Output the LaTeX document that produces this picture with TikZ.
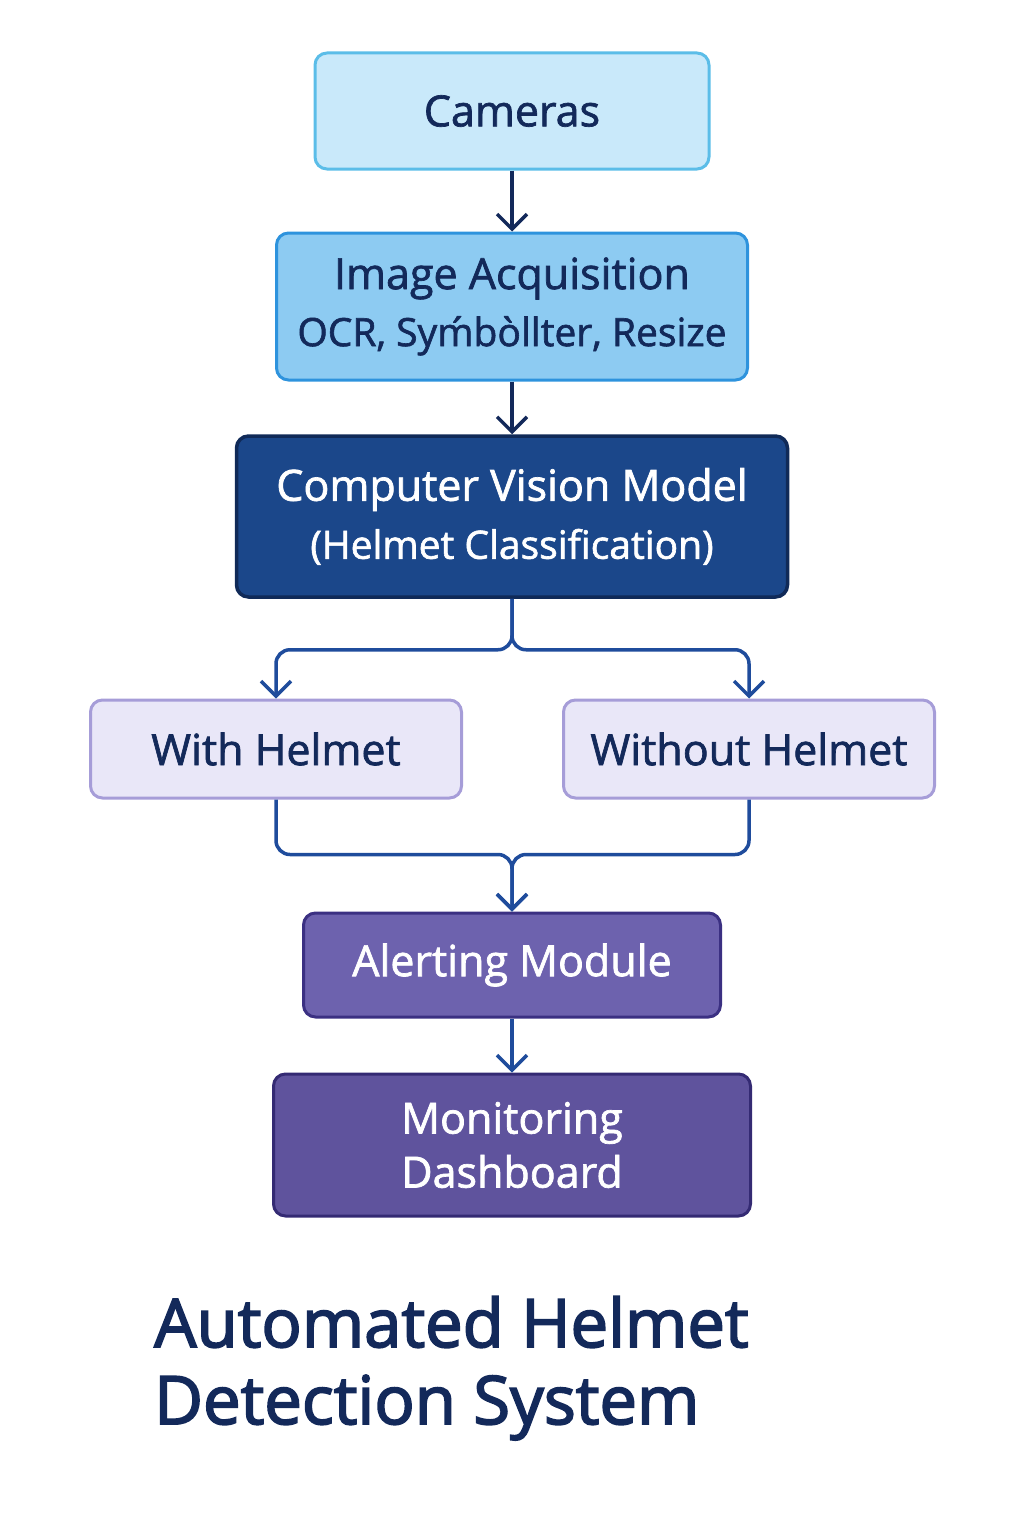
\documentclass[tikz,border=0pt]{standalone}
\usepackage{fontspec}
\setmainfont{Open Sans}[FakeBold=1.6]
\newfontfamily\titlefont{Open Sans}[FakeBold=2.6]
\usepackage{tikz}
\usetikzlibrary{arrows.meta, positioning}
\definecolor{camfill}{HTML}{C9E9FA}
\definecolor{camdraw}{HTML}{5BBDE8}
\definecolor{acqfill}{HTML}{8DCBF2}
\definecolor{acqdraw}{HTML}{2E93DD}
\definecolor{cvfill}{HTML}{1B478A}
\definecolor{cvdraw}{HTML}{102A58}
\definecolor{clsfill}{HTML}{E9E7F8}
\definecolor{clsdraw}{HTML}{A69DD8}
\definecolor{alfill}{HTML}{6D62AE}
\definecolor{aldraw}{HTML}{3B3082}
\definecolor{monfill}{HTML}{5F539D}
\definecolor{mondraw}{HTML}{342A73}
\definecolor{navy}{HTML}{13295A}
\definecolor{flow}{HTML}{1F4C9C}
\newcommand{\sublabel}{\fontsize{39}{46}\selectfont}
\tikzstyle{camera} =
[rectangle, rounded corners=12pt, minimum width = 394pt, minimum height = 116pt,
text centered, draw=camdraw, line width=3pt, fill=camfill, text=navy,
font=\fontsize{43}{50}\selectfont]
\tikzstyle{acquire} =
[rectangle, rounded corners=12pt, minimum width = 471pt, minimum height = 147pt,
align=center, draw=acqdraw, line width=3pt, fill=acqfill, text=navy,
font=\fontsize{43}{57}\selectfont]
\tikzstyle{model} =
[rectangle, rounded corners=12pt, minimum width = 551pt, minimum height = 161pt,
align=center, draw=cvdraw, line width=3.5pt, fill=cvfill, text=white,
font=\fontsize{43}{58}\selectfont]
\tikzstyle{classbox} =
[rectangle, rounded corners=12pt, minimum width = 371pt, minimum height = 98pt,
text centered, draw=clsdraw, line width=3pt, fill=clsfill, text=navy,
font=\fontsize{43}{50}\selectfont]
\tikzstyle{alert} =
[rectangle, rounded corners=12pt, minimum width = 417pt, minimum height = 104pt,
text centered, draw=aldraw, line width=3pt, fill=alfill, text=white,
font=\fontsize{43}{50}\selectfont]
\tikzstyle{monitor} =
[rectangle, rounded corners=12pt, minimum width = 477pt, minimum height = 142pt,
align=center, draw=mondraw, line width=3pt, fill=monfill, text=white,
font=\fontsize{43}{54}\selectfont]
\tikzstyle{heading} =
[align=left, text=navy, inner sep=0pt, font=\titlefont\fontsize{67}{77}\selectfont]
\tikzstyle{line} = [draw, -{Straight Barb[length=15pt,width=30pt]}, line width=3.5pt]

\begin{document}
\begin{tikzpicture}[x=1pt, y=1pt, node distance = 200pt]
  \useasboundingbox (0,0) rectangle (1024,-1536);
  % pipeline nodes
  \node [camera] (cam) at (512,-111) {Cameras};
  \node [acquire, below of=cam, node distance=195.5pt] (acq)
   {Image Acquisition\\ {\sublabel OCR, Sy\'mb\`ollter, Resize}};
  \node [model, below of=acq, node distance=210pt] (cvm)
   {Computer Vision Model\\ {\sublabel (Helmet Classification)}};
  \node [classbox, below of=cvm, node distance=232.5pt, xshift=-236pt] (with)
   {With Helmet};
  \node [classbox, below of=cvm, node distance=232.5pt, xshift=237pt] (without)
   {Without Helmet};
  \node [alert, below of=cvm, node distance=448.5pt] (alerting) {Alerting Module};
  \node [monitor, below of=alerting, node distance=180pt] (dashboard)
   {Monitoring\\ Dashboard};
  % title
  \node [heading, anchor=north west] (title) at (154,-1296)
   {Automated Helmet\\ Detection System};
  % edges
  \path [line, draw=navy] (cam) -- (acq);
  \path [line, draw=navy] (acq) -- (cvm);
  \path [line, draw=flow, rounded corners=14pt] (cvm.south) -- ++(0,-51) -| (with.north);
  \path [line, draw=flow, rounded corners=14pt] (cvm.south) -- ++(0,-51) -| (without.north);
  \path [line, draw=flow, rounded corners=14pt] (with.south) -- ++(0,-55) -| (alerting.north);
  \path [line, draw=flow, rounded corners=14pt] (without.south) -- ++(0,-55) -| (alerting.north);
  \path [line, draw=flow] (alerting) -- (dashboard);
\end{tikzpicture}
\end{document}
